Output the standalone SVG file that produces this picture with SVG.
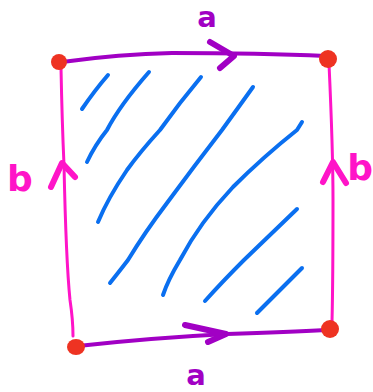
<svg xmlns="http://www.w3.org/2000/svg" width="373" height="392" viewBox="0 0 373 392">
<style>
.edge-a{fill:none;stroke:#a100c4;stroke-width:4;stroke-linecap:round;stroke-linejoin:round}
.arr-a{fill:none;stroke:#a100c4;stroke-width:6;stroke-linecap:round;stroke-linejoin:round}
.edge-b{fill:none;stroke:#ff14c8;stroke-width:3;stroke-linecap:round;stroke-linejoin:round}
.arr-b{fill:none;stroke:#ff14c8;stroke-width:6;stroke-linecap:round;stroke-linejoin:round}
.hatch{fill:none;stroke:#0a6ff0;stroke-width:4;stroke-linecap:round;stroke-linejoin:round}
.dot{fill:#ee3322}
.la{font-family:"DejaVu Sans",sans-serif;font-weight:bold;font-size:29px;fill:#a100c4;text-anchor:middle}
.lb{font-family:"DejaVu Sans",sans-serif;font-weight:bold;font-size:36px;fill:#ff14c8}
</style>
<g id="hatching">
<path class="hatch" d="M108,75 Q95,90 82,109"/>
<path class="hatch" d="M149,72 Q120,105 107,130 Q95,145 87,162"/>
<path class="hatch" d="M201,77 Q180,102 160,130 Q140,152 127,170 Q108,198 98,222"/>
<path class="hatch" d="M253,87 Q238,108 222,130 Q195,165 167,203 Q145,232 128,260 Q118,273 110,283"/>
<path class="hatch" d="M302,122 L297,130 Q263,157 233,187 Q200,222 180,260 Q168,280 163,295"/>
<path class="hatch" d="M297,209 Q270,235 244,260 Q222,282 205,301"/>
<path class="hatch" d="M302,268 Q280,290 257,313"/>
</g>
<g id="connectors">
<g id="edge-top">
<path class="edge-a" d="M62,62 Q120,54 172,53 Q260,53 326,56"/>
<path class="arr-a" d="M210,42 L234,56 L220,68"/>
</g>
<g id="edge-bottom">
<path class="edge-a" d="M78,346 Q150,338 227,334 Q290,332 326,330"/>
<path class="arr-a" d="M185,325 L226,334 L208,342"/>
</g>
<g id="edge-left">
<path class="edge-b" d="M61,68 Q62,120 64,165 Q66,260 70,300 Q73,320 73,336"/>
<path class="arr-b" d="M51,187 L62,163 L75,177"/>
</g>
<g id="edge-right">
<path class="edge-b" d="M329,64 Q333,150 333,200 Q333,280 332,322"/>
<path class="arr-b" d="M323,182 L333,162 L346,183"/>
</g>
</g>
<g id="node-tl"><circle class="dot" cx="59" cy="62" r="8"/></g>
<g id="node-tr"><ellipse class="dot" cx="328" cy="59" rx="9" ry="9"/></g>
<g id="node-bl"><ellipse class="dot" cx="76" cy="347" rx="9" ry="8"/></g>
<g id="node-br"><ellipse class="dot" cx="330" cy="329" rx="9" ry="9"/></g>
<g id="labels">
<text class="la" x="207" y="27">a</text>
<text class="la" x="196" y="385">a</text>
<text class="lb" x="20" y="191" text-anchor="middle">b</text>
<text class="lb" x="373" y="180" text-anchor="end">b</text>
</g>
</svg>
